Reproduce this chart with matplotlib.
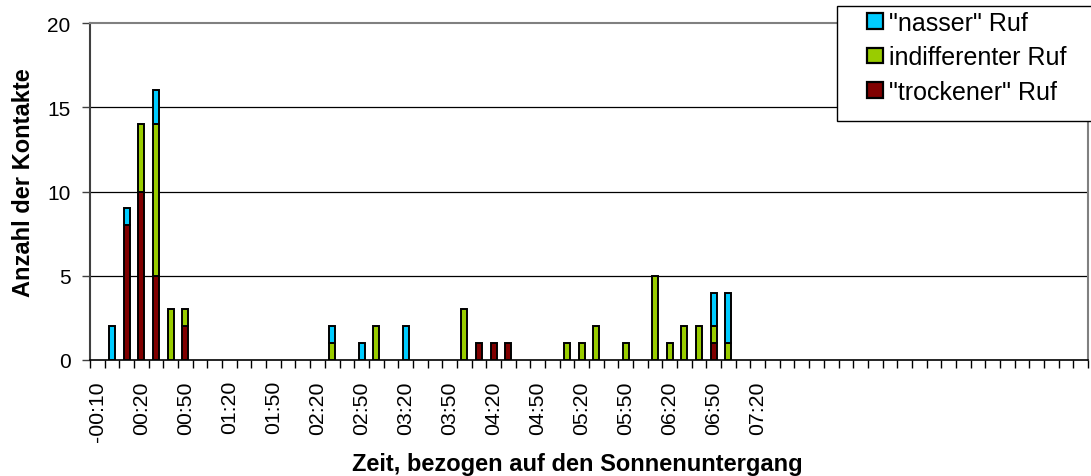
import matplotlib
matplotlib.use("Agg")
import matplotlib.pyplot as plt
import numpy as np
from matplotlib.patches import Patch, Rectangle

plt.rcParams['font.family'] = ['Liberation Sans', 'DejaVu Sans']

# time slots in minutes relative to sunset (10-minute classes)
slot_minutes = list(range(-10, 661, 10))
last_labelled = "07:20"

trockener = [0, 0, 8, 10, 5, 0, 2, 0, 0, 0,
             0, 0, 0, 0, 0, 0, 0, 0, 0, 0,
             0, 0, 0, 0, 0, 0, 1, 1, 1, 0,
             0, 0, 0, 0, 0, 0, 0, 0, 0, 0,
             0, 0, 1, 0, 0, 0, 0, 0, 0, 0,
             0, 0, 0, 0, 0, 0, 0, 0, 0, 0,
             0, 0, 0, 0, 0, 0, 0, 0]
indifferent = [0, 0, 0, 4, 9, 3, 1, 0, 0, 0,
               0, 0, 0, 0, 0, 0, 1, 0, 0, 2,
               0, 0, 0, 0, 0, 3, 0, 0, 0, 0,
               0, 0, 1, 1, 2, 0, 1, 0, 5, 1,
               2, 2, 1, 1, 0, 0, 0, 0, 0, 0,
               0, 0, 0, 0, 0, 0, 0, 0, 0, 0,
               0, 0, 0, 0, 0, 0, 0, 0]
nasser = [0, 2, 1, 0, 2, 0, 0, 0, 0, 0,
          0, 0, 0, 0, 0, 0, 1, 0, 1, 0,
          0, 2, 0, 0, 0, 0, 0, 0, 0, 0,
          0, 0, 0, 0, 0, 0, 0, 0, 0, 0,
          0, 0, 2, 3, 0, 0, 0, 0, 0, 0,
          0, 0, 0, 0, 0, 0, 0, 0, 0, 0,
          0, 0, 0, 0, 0, 0, 0, 0]

series_names = ['"trockener" Ruf', 'indifferenter Ruf', '"nasser" Ruf']
colors = ['#800000', '#99CC00', '#00CCFF']
y_ticks = [0, 5, 10, 15, 20]


def fmt(m):
    sign = '-' if m < 0 else ''
    m = abs(m)
    return f"{sign}{m // 60:02d}:{m % 60:02d}"


categories = [fmt(m) for m in slot_minutes]

W, H = 1091, 477
fig = plt.figure(figsize=(W / 100, H / 100), dpi=100)
ax = fig.add_axes([90 / W, 116 / H, 998 / W, 337 / H])

n = len(categories)
x = np.arange(n)
bottom = np.zeros(n)
for vals, col, name in zip([trockener, indifferent, nasser], colors, series_names):
    v = np.array(vals, dtype=float)
    m = v > 0
    ax.bar(x[m], v[m], bottom=bottom[m], width=0.41, color=col,
           edgecolor='black', linewidth=1.4, zorder=3)
    bottom += v

ax.set_xlim(-0.5, n - 0.5)
ax.set_ylim(0, 20)
ax.set_yticks(y_ticks)
ax.set_yticklabels([str(t) for t in y_ticks], fontsize=15)
for t in y_ticks[1:-1]:
    ax.axhline(t, color='black', linewidth=0.9, zorder=1)

# x labels: every third slot, up to last labelled
stop = categories.index(last_labelled)
lab_idx = list(range(0, stop + 1, 3))
ax.set_xticks(lab_idx)
ax.set_xticklabels([categories[i] for i in lab_idx], rotation=90, fontsize=15.3)
ax.tick_params(axis='x', which='major', length=0, pad=14.5)
ax.set_xticks(np.arange(-0.5, n, 1), minor=True)
ax.tick_params(axis='x', which='minor', length=5.8, width=1, color='black', direction='out')
ax.tick_params(axis='y', length=6, width=1, color='#404040', direction='out', pad=8)

ax.spines['left'].set_color('#404040')
ax.spines['left'].set_linewidth(1.5)
ax.spines['bottom'].set_color('black')
ax.spines['bottom'].set_linewidth(1.2)
ax.spines['top'].set_color('#808080')
ax.spines['top'].set_linewidth(1.5)
ax.spines['right'].set_color('#808080')
ax.spines['right'].set_linewidth(1.5)

ax.set_ylabel('Anzahl der Kontakte', fontsize=17, fontweight='bold')
ax.yaxis.label.set_va('center')
ax.yaxis.set_label_coords(-0.067, 0.53)
ax.set_xlabel('Zeit, bezogen auf den Sonnenuntergang', fontsize=17, fontweight='bold')
ax.xaxis.label.set_va('baseline')
ax.xaxis.set_label_coords(0.488, -0.326)

# legend frame (extends beyond right edge as in the original)
frame = Rectangle((837 / W, 1 - 122 / H), 270 / W, 115 / H, transform=fig.transFigure,
                  facecolor='white', edgecolor='black', linewidth=1.0, zorder=5)
fig.patches.append(frame)

handles = [Patch(facecolor=c, edgecolor='black', linewidth=1.6) for c in colors[::-1]]
leg = fig.legend(handles, series_names[::-1], loc='upper left',
                 bbox_to_anchor=(867 / W, 1 - 12 / H), bbox_transform=fig.transFigure,
                 fontsize=18, frameon=False, borderaxespad=0, borderpad=0,
                 handlelength=0.64, handleheight=0.6, handletextpad=0.24,
                 labelspacing=0.41)
leg.set_zorder(10)

fig.savefig('out.png', dpi=100)
